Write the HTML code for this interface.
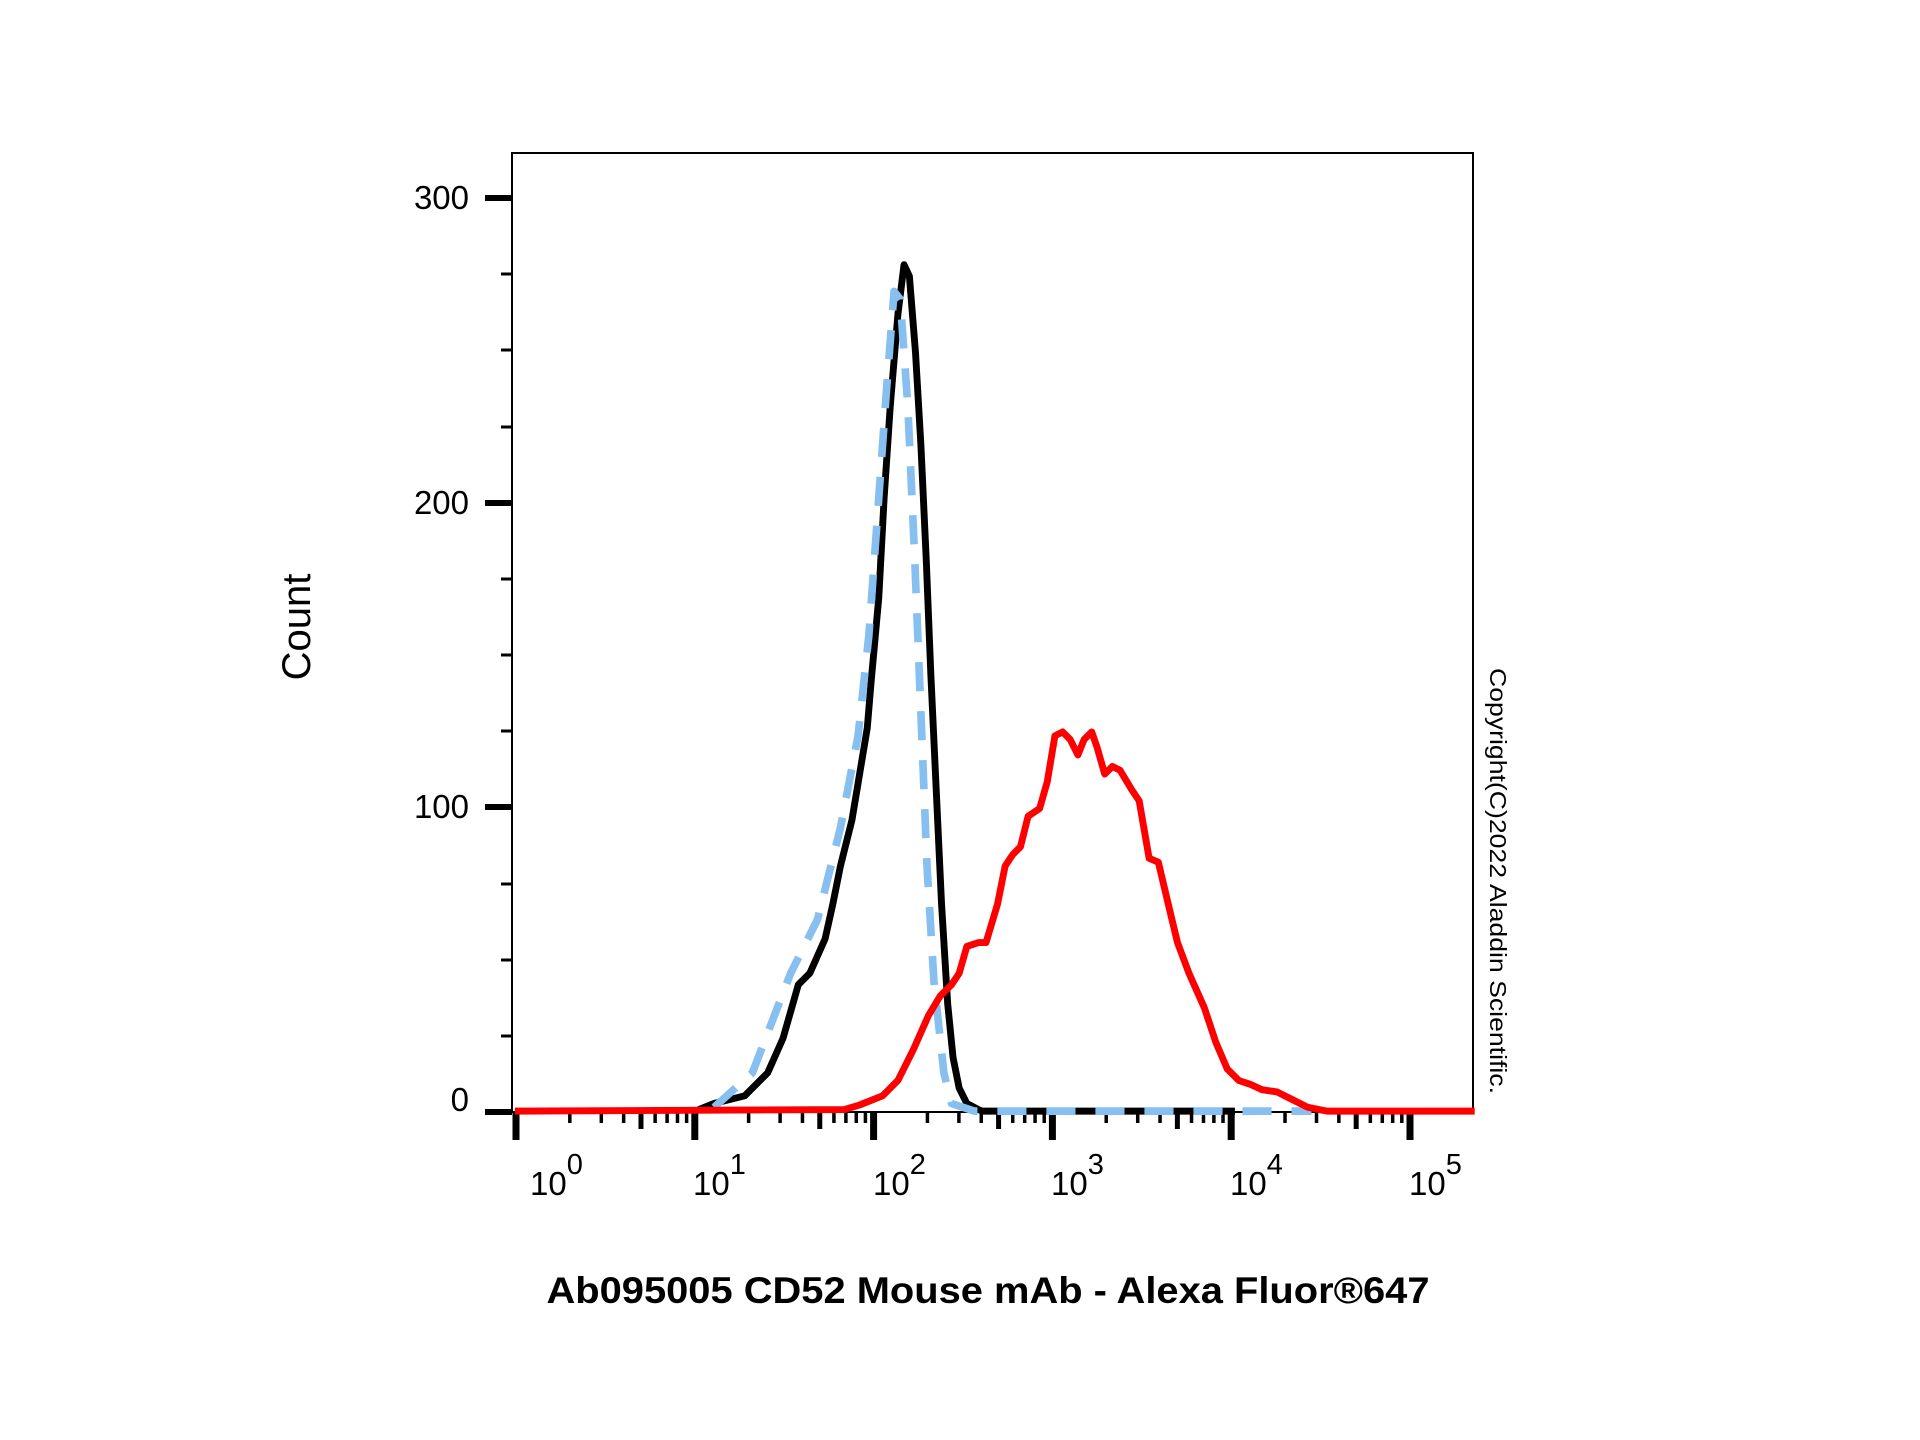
<!DOCTYPE html>
<html><head><meta charset="utf-8"><style>
html,body{margin:0;padding:0;background:#fff;}
svg{display:block;}
text{font-family:"Liberation Sans",Arial,sans-serif;fill:#000;}
</style></head><body>
<svg width="1920" height="1440" viewBox="0 0 1920 1440" xmlns="http://www.w3.org/2000/svg">
<rect x="0" y="0" width="1920" height="1440" fill="#fff"/>
<rect x="512" y="153" width="961" height="959" fill="none" stroke="#000" stroke-width="2"/>
<g stroke="#000">
<line x1="485" y1="1112" x2="512" y2="1112" stroke-width="6"/>
<line x1="485" y1="807" x2="512" y2="807" stroke-width="6"/>
<line x1="485" y1="503" x2="512" y2="503" stroke-width="6"/>
<line x1="485" y1="198" x2="512" y2="198" stroke-width="6"/>
<g stroke-width="3">
<line x1="501" y1="1036" x2="512" y2="1036"/><line x1="501" y1="960" x2="512" y2="960"/><line x1="501" y1="884" x2="512" y2="884"/>
<line x1="501" y1="731" x2="512" y2="731"/><line x1="501" y1="655" x2="512" y2="655"/><line x1="501" y1="579" x2="512" y2="579"/>
<line x1="501" y1="427" x2="512" y2="427"/><line x1="501" y1="350" x2="512" y2="350"/><line x1="501" y1="274" x2="512" y2="274"/>
</g>
</g>
<g font-size="33" text-anchor="end">
<text x="469" y="1111">0</text>
<text x="469" y="818">100</text>
<text x="469" y="514">200</text>
<text x="469" y="209">300</text>
</g>
<g stroke="#000" id="xt"></g>
<script>
(function(){
var g=document.getElementById('xt'),ns='http://www.w3.org/2000/svg';
var x0=516,d=178.8;
function L(x,y2,w){var l=document.createElementNS(ns,'line');l.setAttribute('x1',x);l.setAttribute('x2',x);l.setAttribute('y1',1112);l.setAttribute('y2',y2);l.setAttribute('stroke-width',w);g.appendChild(l);}
for(var k=0;k<=5;k++){L(x0+k*d,1140,7);
 if(k<5)for(var m=2;m<=9;m++){var x=x0+(k+Math.log10(m))*d;L(x,m==5?1129:1123,m==5?5:3.5);}}
})();
</script>
<g font-size="33">
<text x="530" y="1195">10<tspan font-size="29" dy="-21">0</tspan></text>
<text x="693" y="1195">10<tspan font-size="29" dy="-21">1</tspan></text>
<text x="873" y="1195">10<tspan font-size="29" dy="-21">2</tspan></text>
<text x="1051" y="1195">10<tspan font-size="29" dy="-21">3</tspan></text>
<text x="1230" y="1195">10<tspan font-size="29" dy="-21">4</tspan></text>
<text x="1409" y="1195">10<tspan font-size="29" dy="-21">5</tspan></text>
</g>
<g transform="translate(400,100) scale(0.766)" fill="none" stroke-linejoin="round">
<polyline stroke="#000" stroke-width="9" points="390,1318 410,1310 450,1300 480,1270 500,1225 520,1155 535,1140 555,1095 565,1050 575,1000 590,940 600,880 610,820 615,760 625,650 632,520 640,400 650,280 658,215 665,230 673,330 680,450 687,600 693,750 700,900 707,1050 715,1180 722,1250 730,1290 740,1310 755,1318 760,1320 1090,1320"/>
<polyline stroke="#86bff0" stroke-width="10" stroke-dasharray="38,26" points="410,1315 460,1270 510,1140 545,1070 575,950 598,830 612,700 625,520 635,380 645,250 653,260 663,400 672,600 680,800 688,1000 697,1150 710,1270 720,1310 750,1320 1190,1320"/>
<polyline stroke="#f00" stroke-width="9" points="150,1320 580,1318 600,1312 630,1300 650,1280 670,1240 690,1195 705,1170 720,1155 730,1140 740,1105 755,1100 765,1100 780,1050 790,1000 800,985 810,975 820,935 835,925 845,890 855,830 865,825 875,835 885,855 893,835 903,825 910,845 920,880 930,870 940,875 955,900 965,915 978,990 990,995 1003,1050 1015,1100 1030,1140 1050,1185 1065,1230 1080,1265 1095,1280 1110,1285 1125,1292 1145,1295 1165,1305 1185,1315 1210,1320 1403,1320"/>
</g>
<text x="310" y="627" font-size="40" text-anchor="middle" transform="rotate(-90 310 627)">Count</text>
<text x="988" y="1303" font-size="37" font-weight="bold" text-anchor="middle" textLength="883" lengthAdjust="spacingAndGlyphs">Ab095005 CD52 Mouse mAb - Alexa Fluor®647</text>
<text x="1490" y="668" font-size="23" transform="rotate(90 1490 668)" textLength="426" lengthAdjust="spacingAndGlyphs">Copyright(C)2022 Aladdin Scientific.</text>
</svg>
</body></html>
